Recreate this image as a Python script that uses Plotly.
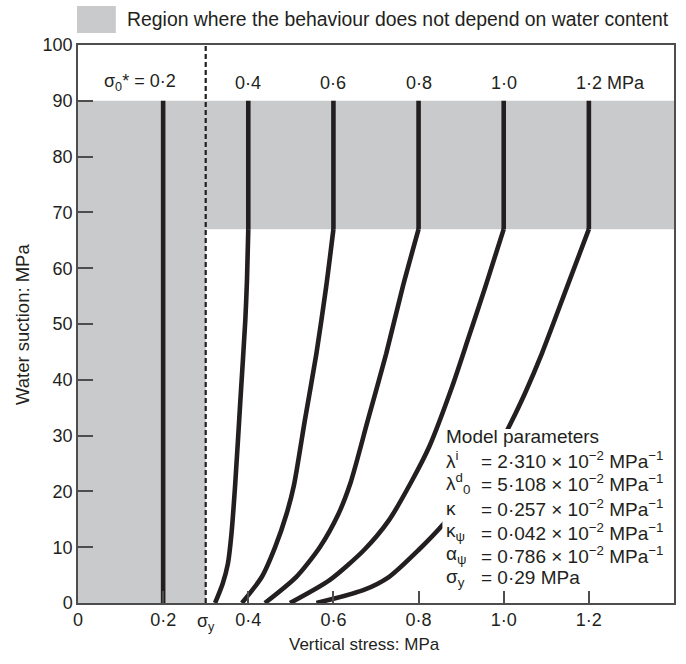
import plotly.graph_objects as go

# ---------------- data ----------------
sigma0_values = [0.2, 0.4, 0.6, 0.8, 1.0, 1.2]
sigma0_labels = ["σ<sub>0</sub>* = 0·2", "0·4", "0·6", "0·8", "1·0", "1·2 MPa"]

sigma_y = 0.3          # yield stress line position (as drawn)
suction_max = 90       # top of region
suction_band_low = 67  # lower edge of grey band

line_02_x = [0.2, 0.2]
line_02_y = [0, 90]

c04_x = [0.400, 0.400, 0.397, 0.393, 0.381, 0.369, 0.360, 0.352, 0.340, 0.322]
c04_y = [90, 67, 58, 50.7, 35.8, 21, 12, 7, 3.5, 0]

c06_x = [0.600, 0.600, 0.583, 0.560, 0.533, 0.507, 0.490, 0.463, 0.432, 0.385]
c06_y = [90, 67, 56.7, 44.7, 32.8, 21, 16, 10, 4.7, 0]

c08_x = [0.800, 0.800, 0.763, 0.724, 0.681, 0.640, 0.612, 0.568, 0.513, 0.439]
c08_y = [90, 67, 56.7, 44.7, 32.8, 21.5, 16, 10, 4.7, 0]

c10_x = [1.000, 1.000, 0.957, 0.918, 0.879, 0.825, 0.785, 0.731, 0.672, 0.591, 0.498]
c10_y = [90, 67, 56.7, 47.7, 38.8, 28, 22, 14.9, 9.5, 4.1, 0]

c12_x = [1.200, 1.200, 1.149, 1.090, 1.050, 1.017, 0.988, 0.940, 0.860, 0.800, 0.731, 0.670, 0.560]
c12_y = [90, 67, 56.7, 44.8, 37.6, 32.3, 28, 22, 14.3, 9.5, 4.7, 2.3, 0]

x_tickvals = [0, 0.2, 0.4, 0.6, 0.8, 1.0, 1.2, 1.4]
x_ticktext = ["0", "0·2", "0·4", "0·6", "0·8", "1·0", "1·2", "1·4"]
y_tickvals = [0, 10, 20, 30, 40, 50, 60, 70, 80, 90, 100]

param_symbols = ["λ<sup>i</sup>", "λ<sup>d</sup><sub>0</sub>", "κ", "κ<sub>ψ</sub>",
                 "α<sub>ψ</sub>", "σ<sub>y</sub>"]
param_values = ["= 2·310 × 10<sup>−2</sup> MPa<sup>−1</sup>",
                "= 5·108 × 10<sup>−2</sup> MPa<sup>−1</sup>",
                "= 0·257 × 10<sup>−2</sup> MPa<sup>−1</sup>",
                "= 0·042 × 10<sup>−2</sup> MPa<sup>−1</sup>",
                "= 0·786 × 10<sup>−2</sup> MPa<sup>−1</sup>",
                "= 0·29 MPa"]

legend_text = "Region where the behaviour does not depend on water content"

# ---------------- styles ----------------
INK = "#231f20"
GREY = "#c9cacc"
FONT = "Liberation Sans, Arial, sans-serif"
LW = 4.6

fig = go.Figure()

# grey regions
fig.add_shape(type="rect", x0=0, x1=sigma_y, y0=0, y1=suction_max,
              fillcolor=GREY, line_width=0, layer="below")
fig.add_shape(type="rect", x0=sigma_y, x1=1.4, y0=suction_band_low, y1=suction_max,
              fillcolor=GREY, line_width=0, layer="below")

# sigma_y dashed line
fig.add_trace(go.Scatter(x=[sigma_y, sigma_y], y=[0, 100], mode="lines",
                         line=dict(color=INK, width=2.2, dash="5px,3px"),
                         showlegend=False, hoverinfo="skip"))

# 0.2 vertical line
fig.add_trace(go.Scatter(x=line_02_x, y=line_02_y, mode="lines",
                         line=dict(color=INK, width=LW), showlegend=False))

for cx, cy in [(c04_x, c04_y), (c06_x, c06_y), (c08_x, c08_y),
               (c10_x, c10_y), (c12_x, c12_y)]:
    # straight vertical part inside the grey band
    fig.add_trace(go.Scatter(x=cx[:2], y=cy[:2], mode="lines",
                             line=dict(color=INK, width=LW), showlegend=False))
    # curved part below the band
    fig.add_trace(go.Scatter(x=cx[1:], y=cy[1:], mode="lines",
                             line=dict(color=INK, width=LW, shape="spline",
                                       smoothing=0.7),
                             showlegend=False))

# white box behind parameters
fig.add_shape(type="rect", x0=0.856, x1=1.395, y0=2.4, y1=31.2,
              fillcolor="white", line_width=0, layer="above")

annotations = []

# top labels
for v, lab in zip(sigma0_values, sigma0_labels):
    if v == 0.2:
        annotations.append(dict(x=0.234, y=93.2, text=lab, xanchor="right",
                                yanchor="middle", showarrow=False,
                                font=dict(size=18, color=INK, family=FONT)))
    elif v == 1.2:
        annotations.append(dict(x=1.164, y=93.2, text=lab, xanchor="left",
                                yanchor="middle", showarrow=False,
                                font=dict(size=18, color=INK, family=FONT)))
    else:
        annotations.append(dict(x=v, y=93.2, text=lab, xanchor="center",
                                yanchor="middle", showarrow=False,
                                font=dict(size=18, color=INK, family=FONT)))

# sigma_y tick label
annotations.append(dict(x=sigma_y, y=0, text="σ<sub>y</sub>", xanchor="center",
                        yanchor="top", yshift=-6, showarrow=False,
                        font=dict(size=18, color=INK, family=FONT)))

# parameters block
PFS = 19
line_ys = [29.8, 25.6, 21.5, 17.0, 12.8, 8.6, 4.5]
annotations.append(dict(x=0.859, y=line_ys[0], text="Model parameters",
                        xanchor="left", yanchor="middle", showarrow=False,
                        font=dict(size=PFS, color=INK, family=FONT)))
for yy, s, val in zip(line_ys[1:], param_symbols, param_values):
    annotations.append(dict(x=0.859, y=yy, text=s, xanchor="left", yanchor="middle",
                            showarrow=False, font=dict(size=PFS, color=INK, family=FONT)))
    annotations.append(dict(x=0.941, y=yy, text=val, xanchor="left", yanchor="middle",
                            showarrow=False, font=dict(size=PFS, color=INK, family=FONT)))

# axis titles
annotations.append(dict(x=0.48, y=-0.075, xref="paper", yref="paper",
                        text="Vertical stress: MPa", showarrow=False,
                        xanchor="center", yanchor="middle",
                        font=dict(size=17, color=INK, family=FONT)))
annotations.append(dict(x=-0.094, y=0.5, xref="paper", yref="paper",
                        text="Water suction: MPa", showarrow=False, textangle=-90,
                        xanchor="center", yanchor="middle",
                        font=dict(size=18.5, color=INK, family=FONT)))

# legend
fig.add_shape(type="rect", xref="paper", yref="paper", x0=-0.0017, x1=0.0635,
              y0=1.0215, y1=1.0699, fillcolor=GREY, line_width=0)
annotations.append(dict(x=0.0786, y=1.0457, xref="paper", yref="paper",
                        text=legend_text, showarrow=False, xanchor="left",
                        yanchor="middle", font=dict(size=19.4, color=INK, family=FONT)))

fig.update_layout(
    width=686, height=664,
    margin=dict(l=78, r=10, t=45, b=61),
    paper_bgcolor="white", plot_bgcolor="white",
    annotations=annotations,
    font=dict(family=FONT, color=INK),
)

fig.update_xaxes(range=[0, 1.4], tickvals=x_tickvals, ticktext=x_ticktext,
                 showgrid=False, zeroline=False, showline=True, mirror=True,
                 linecolor="#4d4d4d", linewidth=1.5, ticks="inside", ticklen=12,
                 tickwidth=1.5, tickcolor="#4d4d4d",
                 tickfont=dict(size=18, color=INK, family=FONT))
fig.update_yaxes(range=[0, 100], tickvals=y_tickvals,
                 showgrid=False, zeroline=False, showline=True, mirror=True,
                 linecolor="#4d4d4d", linewidth=1.5, ticks="inside", ticklen=15,
                 tickwidth=1.5, tickcolor="#4d4d4d",
                 tickfont=dict(size=18, color=INK, family=FONT))

fig.write_html("out.html")
